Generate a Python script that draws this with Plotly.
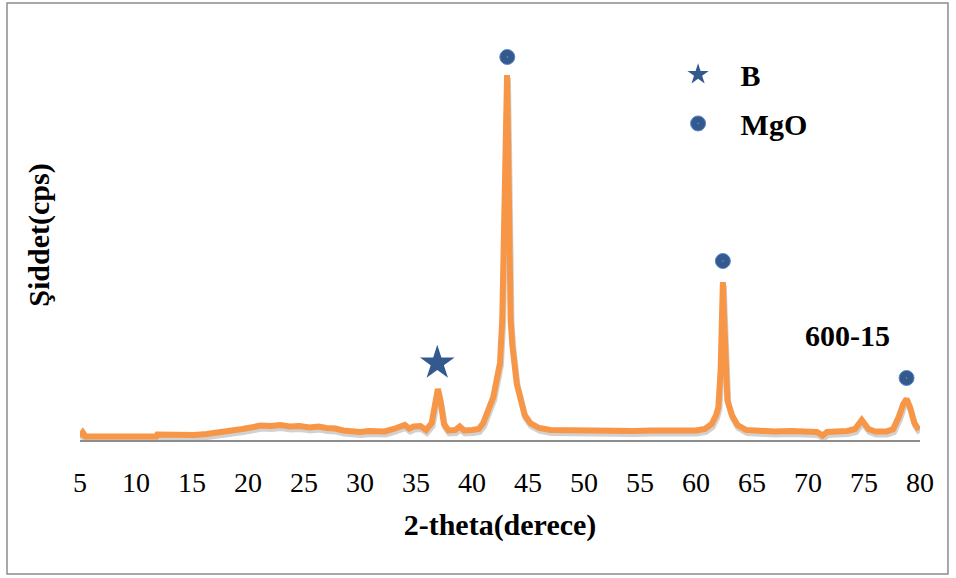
import plotly.graph_objects as go

# ---- data ----
two_theta = [5.0, 5.25, 5.5, 8.0, 11.8, 11.9, 13.5, 15.2, 16.3, 17.5, 18.4, 19.5, 20.5, 21.1,
             22.0, 22.9, 23.7, 24.6, 25.5, 26.3, 27.0, 27.8, 28.5, 29.2, 30.0, 30.8, 31.5,
             32.2, 33.0, 33.6, 34.0, 34.4, 34.8, 35.4, 35.9, 36.4, 36.7, 36.95, 37.2, 37.5,
             37.9, 38.5, 38.9, 39.3, 40.0, 40.6, 41.0, 41.5, 41.9, 42.2, 42.5, 42.7, 42.86,
             43.0, 43.13, 43.22, 43.3, 43.45, 43.6, 43.75, 44.0, 44.3, 44.7, 45.2, 46.0,
             47.0, 48.5, 50.0, 51.5, 53.0, 54.5, 56.0, 57.5, 59.0, 60.0, 60.8, 61.4, 61.8,
             62.0, 62.2, 62.3, 62.4, 62.5, 62.6, 62.8, 63.2, 63.7, 64.5, 65.5, 67.0, 68.5,
             70.0, 70.8, 71.3, 71.7, 72.5, 73.5, 74.2, 74.8, 75.4, 76.0, 77.0, 77.6, 78.1,
             78.5, 78.8, 79.1, 79.5, 79.9]
intensity = [35, 75, 35, 35, 35, 55, 50, 50, 60, 75, 90, 110, 130, 145,
             140, 150, 135, 140, 125, 135, 120, 115, 95, 90, 80, 90, 95,
             85, 110, 125, 150, 115, 135, 140, 100, 170, 400, 510, 380, 160,
             95, 100, 135, 95, 100, 110, 170, 300, 430, 600, 770, 1200, 2100,
             3000, 3650, 3000, 2100, 1200, 950, 770, 560, 430, 250, 170, 120,
             100, 95, 100, 90, 95, 90, 95, 90, 90, 95, 110, 160, 250,
             330, 700, 1250, 1580, 1250, 800, 400, 250, 150, 100, 90, 85, 90,
             85, 80, 45, 80, 85, 90, 110, 200, 110, 85, 85, 110, 230,
             360, 410, 330, 170, 100]

# peak markers
b_theta = [36.9]
b_int = [770]
mgo_theta = [43.15, 62.4, 78.8]
mgo_int = [3830, 1790, 620]

x_ticks = [5, 10, 15, 20, 25, 30, 35, 40, 45, 50, 55, 60, 65, 70, 75, 80]

SERIF = "Liberation Serif, Times New Roman, serif"
ORANGE = "#F79646"
BLUE = "#33598F"

fig = go.Figure()

# soft shadow under the line
fig.add_trace(go.Scatter(
    x=[t + 0.08 for t in two_theta], y=[v - 30 for v in intensity],
    mode="lines", line=dict(color="rgba(0,0,0,0.18)", width=6),
    hoverinfo="skip", showlegend=False))

fig.add_trace(go.Scatter(
    x=two_theta, y=intensity, mode="lines",
    line=dict(color=ORANGE, width=6), showlegend=False))

fig.add_trace(go.Scatter(
    x=b_theta, y=b_int, mode="markers", name="\u00a0\u00a0\u00a0B",
    marker=dict(symbol="star", size=26, color=BLUE), legendgroup="b"))

fig.add_trace(go.Scatter(
    x=mgo_theta, y=mgo_int, mode="markers", name="\u00a0\u00a0\u00a0MgO",
    marker=dict(symbol="circle-dot", size=15, color=BLUE,
                line=dict(color="#5A86C2", width=1)), legendgroup="m"))

fig.add_annotation(x=73.5, y=1050, text="<b>600-15</b>", showarrow=False,
                   font=dict(family=SERIF, size=30, color="black"))

# outer frame
fig.add_shape(type="rect", xref="paper", yref="paper",
              x0=-0.0869, x1=1.0333, y0=-0.3268, y1=1.0659,
              line=dict(color="#8C8C8C", width=1.5))

fig.update_layout(
    width=956, height=578,
    margin=dict(l=80, r=36, t=30, b=138),
    paper_bgcolor="white", plot_bgcolor="white",
    font=dict(family=SERIF, color="black"),
    legend=dict(x=0.712, y=0.955, xanchor="left", yanchor="top",
                font=dict(family=SERIF, size=30, color="black", weight="bold"),
                bgcolor="rgba(0,0,0,0)", tracegroupgap=7, itemsizing="trace"),
    xaxis=dict(range=[5, 80], tickvals=x_ticks, ticks="", showgrid=False,
               zeroline=False, showline=True, linecolor="#8C8C8C", linewidth=2,
               automargin=False, ticklabelstandoff=16,
               tickfont=dict(family=SERIF, size=28, color="black"),
               title=dict(text="<b>2-theta(derece)</b>", standoff=17,
                          font=dict(family=SERIF, size=30, color="black"))),
    yaxis=dict(range=[0, 4100], showticklabels=False, ticks="", showgrid=False,
               zeroline=False, showline=False, automargin=False,
               title=dict(text="<b>Şiddet(cps)</b>", standoff=20,
                          font=dict(family=SERIF, size=30, color="black"))),
)

fig.write_html("out.html", config={"displayModeBar": False},
               post_script="document.body.style.margin='0px';document.body.style.overflow='hidden';")
